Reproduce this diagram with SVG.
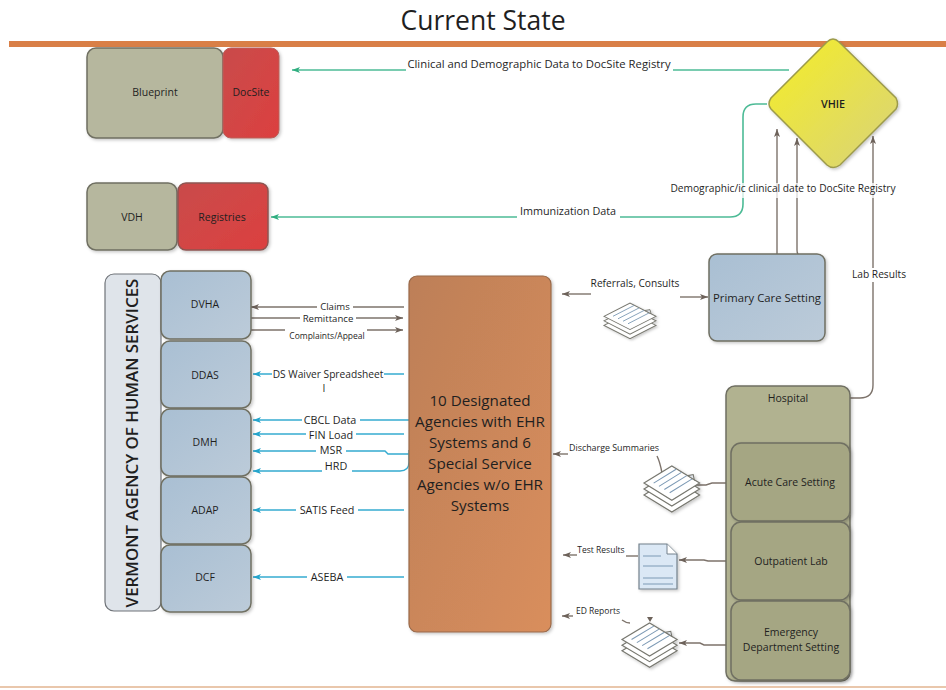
<svg xmlns="http://www.w3.org/2000/svg" width="946" height="690" viewBox="0 0 946 690">
<style>
text{font-family:"Open Sans","Liberation Sans",sans-serif;fill:#1f1f1f;text-anchor:middle}
.s{font-size:10.2px}.c{font-size:9.6px}.n{font-size:10.5px;font-weight:500}.m{font-size:10.8px}
.node{stroke:#6f6f62;stroke-width:1.5;filter:url(#sh)}
.g{fill:none;stroke:#4dbb96;stroke-width:1.6}
.b{fill:none;stroke:#35abd0;stroke-width:1.4}
.k{fill:none;stroke:#7d736b;stroke-width:1.4}
.bg{fill:#fff;stroke:none}
.page{fill:#fff;stroke:#77776f;stroke-width:1.1}
.l{stroke:#7d9ab5;stroke-width:1;fill:none}
</style>
<defs>
<filter id="sh" x="-10%" y="-10%" width="125%" height="125%"><feDropShadow dx="1.5" dy="1.5" stdDeviation="1.5" flood-color="#000" flood-opacity=".22"/></filter>
<marker id="ag" markerWidth="10" markerHeight="8" refX="8" refY="4" orient="auto" markerUnits="userSpaceOnUse"><path d="M8 4L0 1L2 4L0 7Z" fill="#2fae7f"/></marker>
<marker id="ab" markerWidth="10" markerHeight="8" refX="8" refY="4" orient="auto" markerUnits="userSpaceOnUse"><path d="M8 4L0 1L2 4L0 7Z" fill="#25a5cc"/></marker>
<marker id="ak" markerWidth="10" markerHeight="8" refX="8" refY="4" orient="auto" markerUnits="userSpaceOnUse"><path d="M8 4L0 1L2 4L0 7Z" fill="#6d625a"/></marker>
<linearGradient id="red" x1="0" y1="0" x2="1" y2="1"><stop offset="0" stop-color="#c94b4a"/><stop offset="1" stop-color="#dc4040"/></linearGradient>
<linearGradient id="yel" x1="0" y1="0" x2="1" y2="1"><stop offset="0" stop-color="#f5ee25"/><stop offset="1" stop-color="#d8d27c"/></linearGradient>
<linearGradient id="blu" x1="0" y1="0" x2="1" y2="1"><stop offset="0" stop-color="#a9bfd3"/><stop offset="1" stop-color="#bccbd9"/></linearGradient>
<linearGradient id="org" x1="0" y1="0" x2="1" y2="1"><stop offset="0" stop-color="#bd7f58"/><stop offset="1" stop-color="#d98e5c"/></linearGradient>
<g id="stack" filter="url(#sh)"><g class="page"><path d="M0 16L26 0L52 16L26 32Z" transform="translate(0 11)"/><path d="M0 16L26 0L52 16L26 32Z" transform="translate(0 5.5)"/><path d="M0 16L26 0L52 16L26 32Z"/></g><path class="l" d="M9 16L30 3M14 19L35 6M19 22L40 9M24 25L45 12"/><path d="M41 9L46 8L47 13Z" fill="#dfe4ea" stroke="#77776f"/></g>
</defs>

<text x="483" y="30" style="font-size:26.5px">Current State</text>
<rect x="9" y="41" width="937" height="6" fill="#d97f47"/>
<rect x="0" y="686" width="946" height="2" fill="#e9c7ac"/>

<g id="connectors">
<path class="g" d="M789 70H673"/><path class="g" d="M406 70H292" marker-end="url(#ag)"/>
<path class="g" d="M767 104H756Q743 104 743 117V204Q743 217 730 217H620"/><path class="g" d="M517 217H271" marker-end="url(#ag)"/>
<path class="k" d="M777 254V129" marker-end="url(#ak)"/>
<path class="k" d="M798 254Q797 253 797 250V138" marker-end="url(#ak)"/>
<path class="k" d="M850 398H860Q873 398 873 385V136" marker-end="url(#ak)"/>
<path class="k" d="M591 294H562" marker-end="url(#ak)"/><path class="k" d="M680 297H708" marker-end="url(#ak)"/>
<path class="k" d="M404 307H251" marker-end="url(#ak)"/>
<path class="k" d="M251 318H403" marker-end="url(#ak)"/>
<path class="k" d="M251 330H285M367 330H403" marker-end="url(#ak)"/>
<path class="b" d="M404 374H253" marker-end="url(#ab)"/>
<path class="b" d="M409 420H253" marker-end="url(#ab)"/>
<path class="b" d="M404 434H253" marker-end="url(#ab)"/>
<path class="b" d="M409 454H388L385 451H253" marker-end="url(#ab)"/>
<path class="b" d="M409 450V462Q409 471 400 471H253" marker-end="url(#ab)"/>
<path class="b" d="M404 510H253" marker-end="url(#ab)"/>
<path class="b" d="M404 577H253" marker-end="url(#ab)"/>
<path class="k" d="M730 483H712L706 485H695"/>
<path class="k" d="M568 454H553" marker-end="url(#ak)"/>
<path class="k" d="M657 456Q660 462 662 473"/>
<path class="k" d="M731 561H708L704 560H679" marker-end="url(#ak)"/>
<path class="k" d="M577 555H563" marker-end="url(#ak)"/>
<path class="k" d="M626 556H638"/>
<path class="k" d="M726 645H704L700 643H679" marker-end="url(#ak)"/>
<path class="k" d="M573 616H562" marker-end="url(#ak)"/>
<path class="k" d="M622 620Q626 623 630 623"/>
<path d="M647 617H653L650 622Z" fill="#6d625a"/>
</g>

<g id="blueprint"><rect class="node" x="87" y="48" width="136" height="90" rx="9" fill="#b6b79e"/><text class="n" x="155" y="96">Blueprint</text></g>
<g id="docsite"><rect x="223" y="48" width="56" height="90" rx="8" fill="url(#red)" stroke="#b8605b" filter="url(#sh)"/><text class="n" x="251" y="96">DocSite</text></g>
<g id="vdh"><rect class="node" x="87" y="183" width="90" height="67" rx="9" fill="#b6b79e"/><text class="n" x="132" y="221">VDH</text></g>
<g id="registries"><rect x="178" y="183" width="90" height="67" rx="8" fill="url(#red)" stroke="#8d5551" stroke-width="1.5" filter="url(#sh)"/><text class="n" x="222" y="221">Registries</text></g>
<g id="vhie"><path d="M833 39Q836 39 839 42L896 98Q899 104 896 109L840 165Q833 170 827 165L771 109Q767 104 771 98L827 42Q830 39 833 39Z" fill="url(#yel)" stroke="#9c9a4c" stroke-width="1.5" filter="url(#sh)"/><text class="m" x="833" y="108" font-weight="600">VHIE</text></g>
<g id="agency"><rect x="105" y="274" width="56" height="337" rx="9" fill="#dfe4ea" stroke="#6f7378" stroke-width="1.2"/><text x="138" y="443" transform="rotate(-90 138 443)" style="font-size:16.9px;font-weight:600">VERMONT AGENCY OF HUMAN SERVICES</text></g>
<g id="dvha"><rect class="node" x="161" y="271" width="90" height="68" rx="9" fill="url(#blu)"/><text class="n" x="205" y="308">DVHA</text></g>
<g id="ddas"><rect class="node" x="161" y="341" width="90" height="67" rx="9" fill="url(#blu)"/><text class="n" x="205" y="379">DDAS</text></g>
<g id="dmh"><rect class="node" x="161" y="409" width="90" height="67" rx="9" fill="url(#blu)"/><text class="n" x="205" y="446">DMH</text></g>
<g id="adap"><rect class="node" x="161" y="477" width="90" height="67" rx="9" fill="url(#blu)"/><text class="n" x="205" y="514">ADAP</text></g>
<g id="dcf"><rect class="node" x="161" y="545" width="90" height="67" rx="9" fill="url(#blu)"/><text class="n" x="205" y="581">DCF</text></g>
<g id="agencies"><rect x="409" y="276" width="142" height="356" rx="8" fill="url(#org)" stroke="#98694a" stroke-width="1.2" filter="url(#sh)"/><g style="font-size:15.2px"><text x="480" y="406">10 Designated</text><text x="480" y="427">Agencies with EHR</text><text x="480" y="448">Systems and 6</text><text x="480" y="469">Special Service</text><text x="480" y="490">Agencies w/o  EHR</text><text x="480" y="511">Systems</text></g></g>
<g id="primary"><rect class="node" x="709" y="254" width="116" height="87" rx="8" fill="url(#blu)"/><text x="767" y="302" style="font-size:11.3px;font-weight:500">Primary Care Setting</text></g>
<g id="hospital"><rect class="node" x="726" y="386" width="124" height="295" rx="9" fill="#b1b290"/><text class="n" x="788" y="402">Hospital</text></g>
<g id="acute"><rect class="node" x="731" y="443" width="119" height="78" rx="10" fill="#a5a683"/><text class="n" x="790" y="486">Acute Care Setting</text></g>
<g id="lab"><rect class="node" x="731" y="522" width="119" height="78" rx="10" fill="#a5a683"/><text class="n" x="791" y="565">Outpatient Lab</text></g>
<g id="ed"><rect class="node" x="731" y="601" width="119" height="79" rx="10" fill="#a5a683"/><text class="n" x="791" y="636">Emergency</text><text class="n" x="791" y="651">Department Setting</text></g>

<g id="doc-referrals"><use href="#stack" transform="translate(604 303) scale(1 .83)"/></g>
<g id="doc-discharge"><use href="#stack" transform="translate(644 466) scale(1.07 1.07)"/></g>
<g id="doc-test"><path d="M639 544H667L677 554V589H639Z" fill="#dbe8f5" stroke="#72808c" stroke-width="1.2" filter="url(#sh)"/><path d="M667 544V554H677" fill="#fff" stroke="#72808c"/><path class="l" d="M643 556H661M643 566H673M643 578H673M643 584H673"/></g>
<g id="doc-ed"><use href="#stack" transform="translate(622 623) scale(1.06 1.03)"/></g>

<g id="labels">
<text x="539" y="68" style="font-size:11.3px">Clinical and Demographic Data  to DocSite Registry</text>
<text class="m" x="568" y="215">Immunization Data</text>
<rect class="bg" x="670" y="183" width="226" height="15" opacity=".75"/><text class="s" x="783" y="192">Demographic/ic clinical date to DocSite Registry</text>
<rect class="bg" x="850" y="268" width="58" height="14"/><text class="s" x="879" y="278">Lab Results</text>
<text class="s" x="635" y="287">Referrals, Consults</text>
<rect class="bg" x="317" y="302" width="36" height="9"/><text class="c" x="335" y="310">Claims</text>
<rect class="bg" x="300" y="313" width="56" height="9"/><text class="c" x="328" y="322">Remittance</text>
<text x="327" y="339" style="font-size:8.5px">Complaints/Appeal</text>
<rect class="bg" x="272" y="369" width="112" height="10"/><text class="s" x="328" y="378">DS Waiver Spreadsheet</text>
<text class="s" x="324" y="392">I</text>
<rect class="bg" x="302" y="415" width="58" height="10"/><text class="m" x="330" y="424">CBCL Data</text>
<rect class="bg" x="306" y="429" width="50" height="10"/><text class="m" x="331" y="439">FIN Load</text>
<rect class="bg" x="316" y="446" width="30" height="10"/><text class="m" x="331" y="454">MSR</text>
<rect class="bg" x="322" y="462" width="30" height="10"/><text class="m" x="336" y="470">HRD</text>
<rect class="bg" x="296" y="505" width="62" height="10"/><text class="m" x="327" y="514">SATIS Feed</text>
<rect class="bg" x="307" y="572" width="40" height="10"/><text class="m" x="327" y="581">ASEBA</text>
<text x="614" y="451" style="font-size:8.9px">Discharge Summaries</text>
<text x="601" y="553" style="font-size:8.5px">Test Results</text>
<text x="598" y="614" style="font-size:8.5px">ED Reports</text>
</g>
</svg>
